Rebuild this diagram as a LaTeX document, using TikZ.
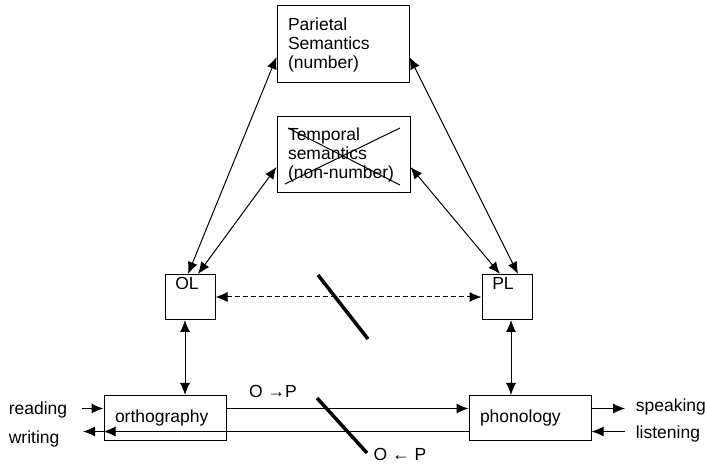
\documentclass[tikz,border=0pt]{standalone}
\usepackage{fontspec}
\setmainfont{Liberation Sans}
\usetikzlibrary{arrows.meta}
\tikzset{
  head/.tip = {Latex[length=12pt,width=10pt]},
  box/.style = {draw, align=left, inner xsep=11pt},
  lexbox/.style = {draw, minimum width=50pt, minimum height=45pt},
  cut/.style = {line width=3.5pt}
}

\begin{document}
\begin{tikzpicture}[x=1pt,y=-1pt,line width=1pt,font=\fontsize{17.5}{19}\selectfont]
  \useasboundingbox (0,0) rectangle (705,465);
  % semantics
  \node[box,text width=110pt,minimum height=77pt] (par) at (343,44.5) {Parietal\\Semantics\\(number)};
  \node[box,text width=111pt,minimum height=76pt] (tem) at (343.5,155) {Temporal\\semantics\\(non-number)};
  \draw (288,128) -- (400,185);
  \draw (400,128) -- (285,184);
  % lexicons
  \node[lexbox,label={[anchor=north,inner sep=3pt,xshift=-3pt]north:OL}] (ol) at (190,297) {};
  \node[lexbox,label={[anchor=north,inner sep=3pt,xshift=-4pt]north:PL}] (pl) at (507,297) {};
  \draw[head-head] ([xshift=-2pt]ol.north) -- ([yshift=-12.5pt]par.west);
  \draw[head-head] ([xshift=8pt]ol.north) -- ([yshift=-12pt]tem.west);
  \draw[head-head] ([xshift=11pt]pl.north) -- ([yshift=-12.5pt]par.east);
  \draw[head-head] ([xshift=-7pt]pl.north) -- ([yshift=-12pt]tem.east);
  \draw[head-head,dash pattern=on 5pt off 3pt] (ol) -- (pl);
  \draw[cut] (318,275) -- (368,339);
  % input and output
  \node[box,text width=100pt,minimum height=45pt] (orth) at (165,418) {orthography};
  \node[box,text width=100pt,minimum height=45pt] (phon) at (530,418) {phonology};
  \draw[head-head] ([xshift=-5pt]ol.south) -- ([xshift=20pt]orth.north);
  \draw[head-head] ([xshift=4pt]pl.south) -- ([xshift=-19pt]phon.north);
  \draw[-head] ([yshift=9.5pt]orth.east) -- ([yshift=9.5pt]phon.west);
  \draw[-head] ([yshift=-13.5pt]phon.west) -- ([yshift=-13.5pt]orth.west);
  \node (op) at (273,391) {O →P};
  \node (po) at (400,454) {O ← P};
  \draw[cut] (317,398) -- (367,453);
  %
  \node[anchor=west] (read) at (5,410) {reading};
  \node[anchor=west] (write) at (5,439) {writing};
  \node[anchor=west] (speak) at (632,407) {speaking};
  \node[anchor=west] (listen) at (632,434) {listening};
  \coordinate (readin) at (82,408.5);
  \coordinate (writeout) at (83,431.5);
  \coordinate (speakout) at (625,408.5);
  \coordinate (listenin) at (625,431.5);
  \draw[-head] (readin) -- ([yshift=9.5pt]orth.west);
  \draw[-head] ([yshift=-13.5pt]orth.west) -- (writeout);
  \draw[-head] ([yshift=9.5pt]phon.east) -- (speakout);
  \draw[-head] (listenin) -- ([yshift=-13.5pt]phon.east);
\end{tikzpicture}
\end{document}
